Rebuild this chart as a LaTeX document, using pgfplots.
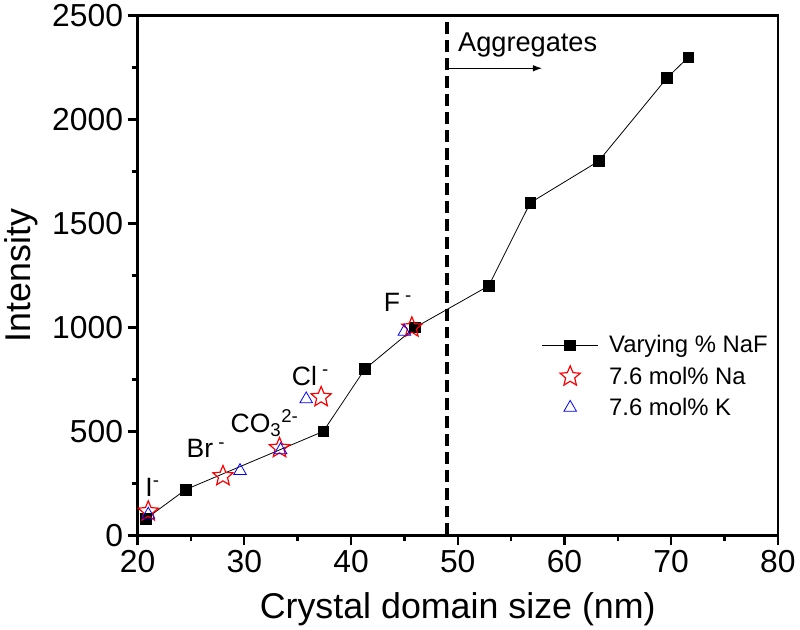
\documentclass[border=0pt]{standalone}
\usepackage{pgfplots}
\pgfplotsset{compat=1.18}
\usetikzlibrary{arrows.meta}
\usepackage{fontspec}
\setmainfont{Liberation Sans}
\pgfdeclareplotmark{ostar}{%
  \pgfpathmoveto{\pgfpointpolar{90}{\pgfplotmarksize}}%
  \pgfpathlineto{\pgfpointpolar{126}{0.45\pgfplotmarksize}}%
  \pgfpathlineto{\pgfpointpolar{162}{\pgfplotmarksize}}%
  \pgfpathlineto{\pgfpointpolar{198}{0.45\pgfplotmarksize}}%
  \pgfpathlineto{\pgfpointpolar{234}{\pgfplotmarksize}}%
  \pgfpathlineto{\pgfpointpolar{270}{0.45\pgfplotmarksize}}%
  \pgfpathlineto{\pgfpointpolar{306}{\pgfplotmarksize}}%
  \pgfpathlineto{\pgfpointpolar{342}{0.45\pgfplotmarksize}}%
  \pgfpathlineto{\pgfpointpolar{18}{\pgfplotmarksize}}%
  \pgfpathlineto{\pgfpointpolar{54}{0.45\pgfplotmarksize}}%
  \pgfpathclose
  \pgfusepathqstroke
}
\begin{document}
\begin{tikzpicture}
\begin{axis}[
  scale only axis, width=483pt, height=392pt,
  xmin=20, xmax=80, ymin=0, ymax=2500,
  xtick={20,30,...,80}, ytick={0,500,...,2500},
  minor x tick num=1, minor y tick num=1,
  tick pos=left, tick align=outside,
  major tick length=7.5pt, minor tick length=4.5pt,
  every tick/.style={black, line width=1.8pt},
  axis line style={line width=1.8pt},
  /pgf/number format/assume math mode=true,
  /pgf/number format/1000 sep={},
  ticklabel style={font=\fontsize{24}{26}\selectfont},
  xlabel={Crystal domain size (nm)}, ylabel={Intensity},
  label style={font=\fontsize{27}{30}\selectfont},
  xlabel style={yshift=-8pt},
  ylabel style={yshift=4pt},
  legend style={draw=none, fill=none, at={(0.995,0.395)}, anchor=north east,
    font=\fontsize{18}{21}\selectfont, row sep=5pt,
    /tikz/every odd column/.append style={column sep=6pt}},
  legend cell align=left,
  legend image code/.code={%
    \draw[mark repeat=2,mark phase=2,#1] plot coordinates {(0cm,0cm) (0.74cm,0cm) (1.48cm,0cm)};},
  clip=false,
]
\addplot[black, line width=0.6pt, mark=square*, mark size=4pt,
  mark options={solid}] coordinates {
  (20.8,80) (24.5,220) (37.4,500) (41.3,800) (46.0,1000) (52.9,1200)
  (56.8,1600) (63.2,1800) (69.6,2200) (71.6,2300)};
\addlegendentry{Varying \% NaF}
\addplot[only marks, red, line width=0.9pt, mark=ostar, mark size=8pt] coordinates {
  (21.0,115) (28.0,285) (33.3,420) (37.2,665) (45.7,1000)};
\addlegendentry{7.6 mol\% Na}
\addplot[only marks, blue, line width=0.6pt, mark=triangle, mark size=5.5pt] coordinates {
  (21.0,100) (29.6,310) (33.4,410) (35.8,655) (45.0,980)};
\addlegendentry{7.6 mol\% K}
\draw[black, line width=2.4pt, dash pattern=on 9pt off 4.5pt] (axis cs:49,0) -- (axis cs:49,2500);
\draw[black, line width=0.8pt, -{Latex[length=7pt,width=5pt]}] (axis cs:49,2247) -- (axis cs:57.9,2247);
\node[anchor=west, font=\fontsize{20.5}{22}\selectfont] at (axis cs:49.6,2360) {Aggregates};
\node[font=\fontsize{20}{22}\selectfont] at (axis cs:21.4,230) {I\textsuperscript{-}};
\node[font=\fontsize{20}{22}\selectfont] at (axis cs:26.4,416) {Br\textsuperscript{ -}};
\node[font=\fontsize{20}{22}\selectfont] at (axis cs:31.9,540) {CO\textsubscript{3}\textsuperscript{2-}};
\node[font=\fontsize{20}{22}\selectfont] at (axis cs:36.2,765) {Cl\textsuperscript{ -}};
\node[font=\fontsize{20}{22}\selectfont] at (axis cs:44.4,1123) {F\textsuperscript{ -}};
\end{axis}
\end{tikzpicture}
\end{document}
